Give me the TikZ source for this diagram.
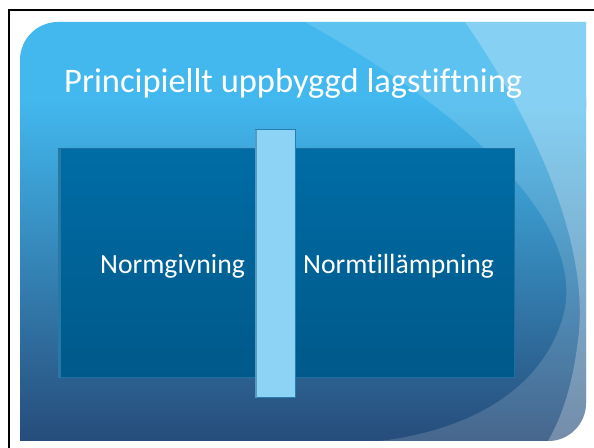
\documentclass[tikz,border=0pt]{standalone}
\usepackage{fontspec}
\setmainfont{Carlito}[Ligatures={NoCommon,NoRequired,NoContextual}]
\definecolor{skytop}{RGB}{66,184,238}
\definecolor{navybot}{RGB}{38,74,120}
\definecolor{boxtop}{RGB}{0,108,165}
\definecolor{boxbot}{RGB}{0,89,138}
\definecolor{boxedge}{RGB}{30,112,160}
\definecolor{boxstrip}{RGB}{40,120,165}
\definecolor{barfill}{RGB}{141,211,246}
\definecolor{baredge}{RGB}{40,125,175}
\definecolor{barstrip}{RGB}{85,155,195}
\begin{document}
\begin{tikzpicture}[x=1bp,y=1bp,
  mainbox/.style={draw=boxedge,line width=0.8bp,top color=boxtop,bottom color=boxbot,
    rectangle,inner sep=0pt,anchor=south west},
  sepbar/.style={draw=baredge,line width=0.8bp,fill=barfill,rectangle,inner sep=0pt,anchor=south west},
  titletext/.style={text=white,inner sep=0pt,anchor=base west,font=\fontsize{34.6}{40}\selectfont},
  bodytext/.style={text=white,inner sep=0pt,anchor=base west,font=\fontsize{27.8}{32}\selectfont}]
\useasboundingbox (0,0) rectangle (594,448);
\clip (0,0) rectangle (594,448);
\fill[white] (0,0) rectangle (594,448);
% outer frame
\draw[black,line width=2.3bp] (8.7,-20) -- (8.7,437.7) -- (620,437.7);
% slide background
\begin{scope}
  \clip (20,7) -- (20,388) arc[start angle=180,end angle=90,radius=38] -- (586,426)
        -- (586,45) arc[start angle=0,end angle=-90,radius=38] -- cycle;
  \fill[skytop] (0,340) rectangle (600,440);
  \shade[top color=skytop,bottom color=navybot] (0,0) rectangle (600,348);
  \fill[white,opacity=0.15] (305,426) .. controls (480,328) and (590,218) .. (562,128)
        .. controls (540,58) and (470,18) .. (380,7) -- (600,0) -- (600,440) -- (305,440) -- cycle;
  \fill[white,opacity=0.25] (465,426) .. controls (540,318) and (590,198) .. (578,108)
        .. controls (572,58) and (560,28) .. (548,7) -- (600,0) -- (600,440) -- (465,440) -- cycle;
\end{scope}
% content
\node[titletext] (title) at (64,355) {Principiellt uppbyggd lagstiftning};
\node[mainbox,minimum width=456bp,minimum height=229bp] (box) at (58,70) {};
\fill[boxstrip] ([xshift=0.4bp,yshift=0.4bp]box.south west) rectangle ([xshift=3bp,yshift=-0.4bp]box.north west);
\node[sepbar,minimum width=40bp,minimum height=268bp] (bar) at (255,50) {};
\fill[barstrip] ([xshift=0.4bp,yshift=0.4bp]bar.south west) rectangle ([xshift=2.4bp,yshift=-0.4bp]bar.north west);
\node[bodytext] (left) at (100,174) {Normgivning};
\node[bodytext] (right) at (303,174) {Normtillämpning};
\end{tikzpicture}
\end{document}
